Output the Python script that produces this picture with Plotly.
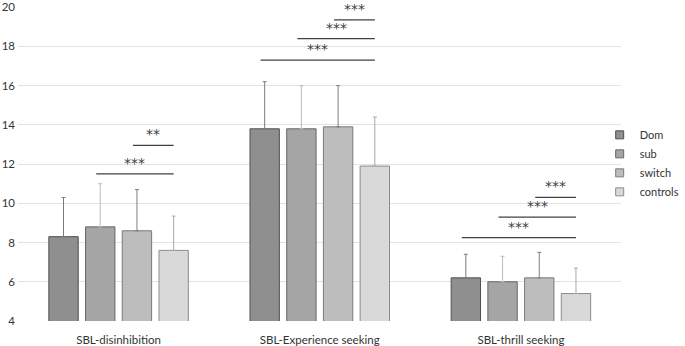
import plotly.graph_objects as go

categories = ["SBL-disinhibition", "SBL-Experience seeking", "SBL-thrill seeking"]
groups = ["Dom", "sub", "switch", "controls"]
means = {
    "Dom": [8.3, 13.8, 6.2],
    "sub": [8.8, 13.8, 6.0],
    "switch": [8.6, 13.9, 6.2],
    "controls": [7.6, 11.9, 5.4],
}
upper = {
    "Dom": [10.3, 16.2, 7.4],
    "sub": [11.0, 16.0, 7.3],
    "switch": [10.7, 16.0, 7.5],
    "controls": [9.35, 14.4, 6.7],
}
# significance: (category index, group from, group to, level, label)
sig_cat = [0, 0, 1, 1, 1, 2, 2, 2]
sig_from = [1, 2, 0, 1, 2, 0, 1, 2]
sig_to = [3, 3, 3, 3, 3, 3, 3, 3]
sig_level = [11.5, 12.95, 17.3, 18.4, 19.35, 8.25, 9.3, 10.3]
sig_label = ["***", "**", "***", "***", "***", "***", "***", "***"]

fills = ["#8f8f8f", "#a5a5a5", "#bdbdbd", "#d9d9d9"]
borders = ["#505050", "#666666", "#7a7a7a", "#8c8c8c"]
errcols = ["#7a7a7a", "#bcbcbc", "#7f7f7f", "#a8a8a8"]

bargap = 0.27
n = len(groups)
slot = (1 - bargap) / n

fig = go.Figure()
xs = list(range(len(categories)))
for i, g in enumerate(groups):
    fig.add_trace(go.Bar(
        name=g, x=xs, y=means[g], showlegend=False, legendgroup=g,
        marker=dict(color=fills[i], line=dict(color=borders[i], width=1)),
        error_y=dict(type="data", symmetric=False,
                     array=[u - m for u, m in zip(upper[g], means[g])],
                     arrayminus=[0] * len(xs),
                     color=errcols[i], thickness=1, width=2),
    ))
for i, g in enumerate(groups):
    fig.add_trace(go.Scatter(
        name=g, x=[None], y=[None], mode="markers", legendgroup=g,
        marker=dict(symbol="square", size=8, color=fills[i],
                    line=dict(color=borders[i], width=1)),
    ))

def gx(c, gi):
    return c - (1 - bargap) / 2 + (gi + 0.5) * slot

for c, a, b, lv, lab in zip(sig_cat, sig_from, sig_to, sig_level, sig_label):
    x0 = gx(c, a) - 0.02
    x1 = gx(c, b)
    fig.add_shape(type="line", x0=x0, x1=x1, y0=lv, y1=lv, xref="x", yref="y",
                  line=dict(color="#404040", width=1.2))
    fig.add_annotation(x=(x0 + x1) / 2, y=lv, text=lab, showarrow=False,
                       yanchor="bottom", yshift=1,
                       font=dict(size=14, color="#404040", family="DejaVu Sans"))

fig.update_layout(
    width=685, height=346,
    margin=dict(l=18, r=0, t=3, b=23),
    barmode="group", bargap=bargap, bargroupgap=0.2,
    plot_bgcolor="white", paper_bgcolor="white",
    font=dict(family="Lato, Open Sans, sans-serif", size=11.5, color="#333333"),
    showlegend=True,
    legend=dict(x=0.88, y=0.639, xanchor="left", yanchor="top",
                font=dict(size=11, color="#333333"), itemwidth=30,
                tracegroupgap=0, bgcolor="rgba(0,0,0,0)"),
    xaxis=dict(domain=[0, 0.913], range=[-0.5, 2.5], tickmode="array", tickvals=xs,
               ticktext=categories, showgrid=False, zeroline=False, showline=False,
               ticks="", ticklabelstandoff=10),
    yaxis=dict(range=[4, 20.01], tick0=4, dtick=2, showgrid=True, gridcolor="#e3e3e3",
               gridwidth=1, zeroline=False, showline=False, ticks="",
               ticklabelstandoff=2, ticklabeloverflow="allow"),
)

fig.write_html("out.html", config={"displayModeBar": False},
               post_script="document.body.style.margin='0';document.body.style.overflow='hidden';")
